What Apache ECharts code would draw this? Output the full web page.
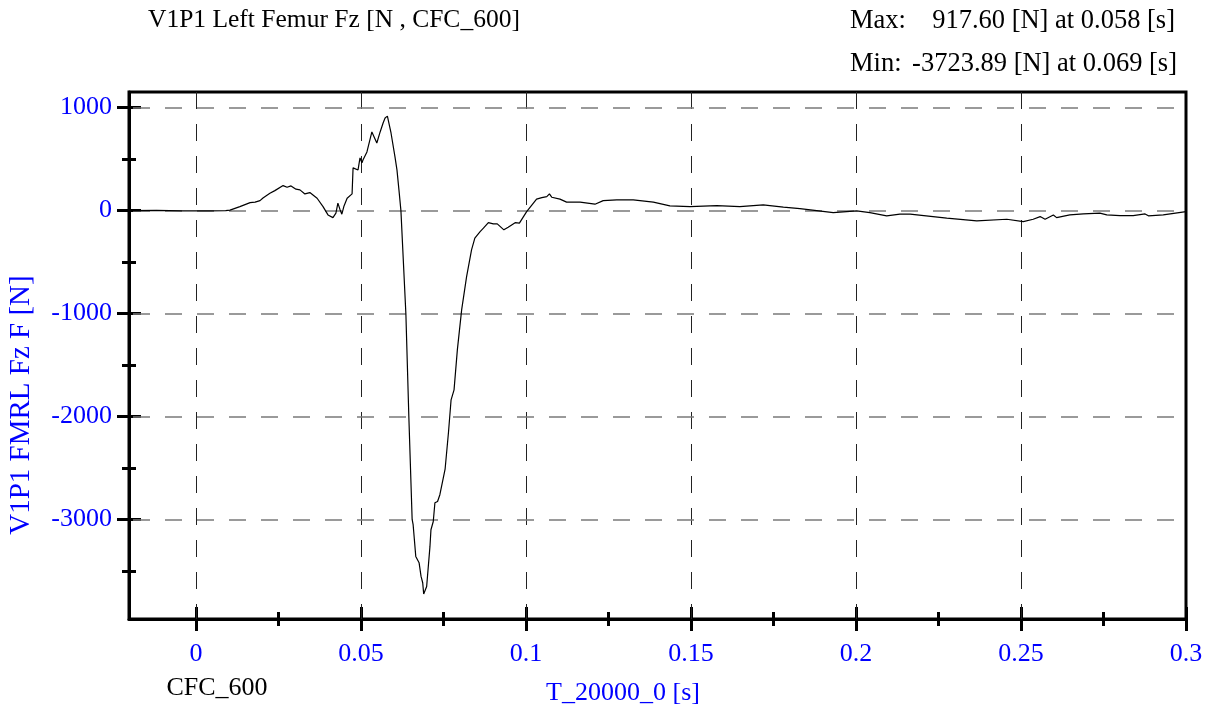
<!DOCTYPE html>
<html>
<head>
<meta charset="utf-8">
<title>V1P1 Left Femur Fz</title>
<script src="https://cdn.jsdelivr.net/npm/echarts@6/dist/echarts.min.js"></script>
<style>
  html, body { margin: 0; padding: 0; background: #fff; }
  #chart { width: 1212px; height: 713px; }
</style>
</head>
<body>
<div id="chart"></div>
<script>
// Femur axial force trace, time in seconds, force in newtons
const timeS = [
  -0.0203, -0.012, -0.004, 0.004, 0.009, 0.0103, 0.0133, 0.0164, 0.0179, 0.0194,
  0.0203, 0.0224, 0.0239, 0.0264, 0.0276, 0.0288, 0.0303, 0.0315, 0.0330, 0.0345,
  0.0367, 0.0385, 0.0400, 0.0415, 0.0424, 0.0430, 0.0436, 0.0442, 0.0448, 0.0458,
  0.0473, 0.0476, 0.0482, 0.0491, 0.0497, 0.0503, 0.0506, 0.0518, 0.0533, 0.0539,
  0.0548, 0.0558, 0.0567, 0.0573, 0.0580, 0.0591, 0.0603, 0.0609, 0.0615, 0.0621,
  0.0636, 0.0645, 0.0655, 0.0658, 0.0666, 0.0676, 0.0682, 0.0687, 0.0690, 0.0699,
  0.0704, 0.0709, 0.0712, 0.0719, 0.0724, 0.0732, 0.0739, 0.0745, 0.0755, 0.0765,
  0.0773, 0.0782, 0.0792, 0.0805, 0.0820, 0.0835, 0.0845, 0.0861, 0.0871, 0.0886,
  0.0901, 0.0913, 0.0933, 0.0946, 0.0967, 0.0980, 0.1002, 0.1032, 0.1048, 0.1063,
  0.1071, 0.1078, 0.1103, 0.1123, 0.1164, 0.1209, 0.1234, 0.1275, 0.1325, 0.1386,
  0.1436, 0.1497, 0.1578, 0.1648, 0.1719, 0.1739, 0.1780, 0.1830, 0.1881, 0.1931,
  0.2002, 0.2042, 0.2093, 0.2133, 0.2164, 0.2275, 0.2366, 0.2457, 0.2507, 0.2537,
  0.2558, 0.2573, 0.2598, 0.2608, 0.2648, 0.2689, 0.2739, 0.2760, 0.2800, 0.2840,
  0.2876, 0.2886, 0.2931, 0.3000
];
const forceN = [
  0, 2, -3, -2, 0, 4, 39, 78, 82, 97,
  123, 169, 194, 243, 227, 240, 208, 201, 162, 175,
  120, 39, -42, -68, -25, 72, 14, -35, 39, 120,
  162, 415, 424, 395, 512, 463, 492, 570, 764, 783,
  657, 764, 851, 900, 917.6, 754, 521, 395, 201, 0,
  -1000, -2003, -3000, -3051, -3359, -3420, -3553, -3615, -3723.89, -3651,
  -3634, -3262, -3100, -3020, -2838, -2825, -2760, -2741, -2508, -2158,
  -1838, -1741, -1353, -964, -641, -382, -268, -204, -171, -117,
  -129, -129, -187, -161, -117, -122, -10, 111, 126, 136,
  162, 130, 111, 82, 82, 62, 97, 104, 104, 82,
  46, 39, 49, 39, 55, 49, 33, 19, 0, -19,
  -3, -19, -51, -35, -35, -74, -100, -84, -107, -84,
  -58, -84, -42, -68, -42, -32, -25, -42, -49, -49,
  -32, -51, -42, -10
];

// Axis ranges and tick positions
const xRange = [-0.0203, 0.3];
const yRange = [-3967, 1152];
const xMajor = [0, 0.05, 0.1, 0.15, 0.2, 0.25, 0.3];
const xMinor = [0.025, 0.075, 0.125, 0.175, 0.225, 0.275];
const yMajor = [-3000, -2000, -1000, 0, 1000];
const yMinor = [-3500, -2500, -1500, -500, 500];
const xGridValues = [0, 0.05, 0.1, 0.15, 0.2, 0.25];
const yGridValues = [-3000, -2000, -1000, 0, 1000];

const chartTitle = 'V1P1 Left Femur Fz [N , CFC_600]';
const maxLabel = 'Max:';
const maxText = '917.60 [N] at 0.058 [s]';
const minLabel = 'Min:';
const minText = '-3723.89 [N] at 0.069 [s]';
const xName = 'T_20000_0 [s]';
const yName = 'V1P1 FMRL Fz F [N]';
const filterName = 'CFC_600';

const FONT = '"Liberation Serif", "Times New Roman", serif';
const BLUE = '#0000ff';

// An extra axis that only draws one set of ticks (major/minor, inside/outside)
function tickAxis(base, values, len, inside) {
  return {
    type: 'value',
    min: base.min,
    max: base.max,
    position: base.position,
    axisLine: { show: false, onZero: false },
    splitLine: { show: false },
    axisLabel: { show: false },
    axisTick: {
      show: true,
      inside: inside,
      length: len,
      customValues: values,
      lineStyle: { color: '#000', width: 3 }
    }
  };
}

const xBase = { min: xRange[0], max: xRange[1], position: 'bottom' };
const yBase = { min: yRange[0], max: yRange[1], position: 'left' };

const xAxes = [
  {
    type: 'value',
    min: xRange[0],
    max: xRange[1],
    position: 'bottom',
    axisLine: { show: true, onZero: false, lineStyle: { color: '#000', width: 3 } },
    splitLine: { show: false },
    axisTick: {
      show: true, inside: false, length: 12, customValues: xMajor,
      lineStyle: { color: '#000', width: 3 }
    },
    axisLabel: {
      show: true, customValues: xMajor, margin: 22,
      color: BLUE, fontFamily: FONT, fontSize: 26,
      formatter: v => String(v)
    }
  },
  tickAxis(xBase, xMinor, 7, false),
  tickAxis(xBase, xMajor, 12, true),
  tickAxis(xBase, xMinor, 7, true)
];

const yAxes = [
  {
    type: 'value',
    min: yRange[0],
    max: yRange[1],
    position: 'left',
    axisLine: { show: true, onZero: false, lineStyle: { color: '#000', width: 3 } },
    splitLine: { show: false },
    axisTick: {
      show: true, inside: false, length: 12, customValues: yMajor,
      lineStyle: { color: '#000', width: 3 }
    },
    axisLabel: {
      show: true, customValues: yMajor, margin: 17,
      color: BLUE, fontFamily: FONT, fontSize: 26,
      formatter: v => String(v)
    }
  },
  tickAxis(yBase, yMinor, 7, false),
  tickAxis(yBase, yMajor, 12, true),
  tickAxis(yBase, yMinor, 7, true)
];

// Dashed grid: vertical lines run top to bottom, horizontal lines left to right
const gridLines = [];
xGridValues.forEach(t => {
  gridLines.push([
    { coord: [t, yRange[1]], lineStyle: { color: '#222', width: 1, type: [17, 15] } },
    { coord: [t, yRange[0]] }
  ]);
});
yGridValues.forEach(v => {
  gridLines.push([
    { coord: [xRange[0], v], lineStyle: { color: '#7a7a7a', width: 1.5, type: [17, 15], dashOffset: 28 } },
    { coord: [xRange[1], v] }
  ]);
});

const chart = echarts.init(document.getElementById('chart'), null, { renderer: 'canvas' });
chart.setOption({
  animation: false,
  backgroundColor: '#fff',
  grid: {
    left: 129, right: 26, top: 92, bottom: 94,
    show: true, borderColor: '#000', borderWidth: 3, backgroundColor: 'transparent'
  },
  xAxis: xAxes,
  yAxis: yAxes,
  series: [{
    type: 'line',
    xAxisIndex: 0,
    yAxisIndex: 0,
    data: timeS.map((t, i) => [t, forceN[i]]),
    symbol: 'none',
    lineStyle: { color: '#000', width: 1.2 },
    silent: true,
    z: 5,
    markLine: {
      silent: true,
      symbol: ['none', 'none'],
      label: { show: false },
      data: gridLines,
      z: 1
    }
  }],
  graphic: [
    { type: 'text', left: 148, top: 7,
      style: { text: chartTitle, font: '25.5px ' + FONT, fill: '#000' } },
    { type: 'text', x: 850, y: 21,
      style: { text: maxLabel, font: '26.5px ' + FONT, fill: '#000', textAlign: 'left', textVerticalAlign: 'middle' } },
    { type: 'text', x: 1175, y: 21,
      style: { text: maxText, font: '26.5px ' + FONT, fill: '#000', textAlign: 'right', textVerticalAlign: 'middle' } },
    { type: 'text', x: 850, y: 64,
      style: { text: minLabel, font: '26.5px ' + FONT, fill: '#000', textAlign: 'left', textVerticalAlign: 'middle' } },
    { type: 'text', x: 1177, y: 64,
      style: { text: minText, font: '26.5px ' + FONT, fill: '#000', textAlign: 'right', textVerticalAlign: 'middle' } },
    { type: 'text', x: 217, y: 688,
      style: { text: filterName, font: '26px ' + FONT, fill: '#000', textAlign: 'center', textVerticalAlign: 'middle' } },
    { type: 'text', x: 623, y: 693,
      style: { text: xName, font: '26px ' + FONT, fill: BLUE, textAlign: 'center', textVerticalAlign: 'middle' } },
    { type: 'text', x: 21, y: 405, rotation: Math.PI / 2,
      style: { text: yName, font: '29px ' + FONT, fill: BLUE, textAlign: 'center', textVerticalAlign: 'middle' } }
  ]
});
</script>
</body>
</html>
